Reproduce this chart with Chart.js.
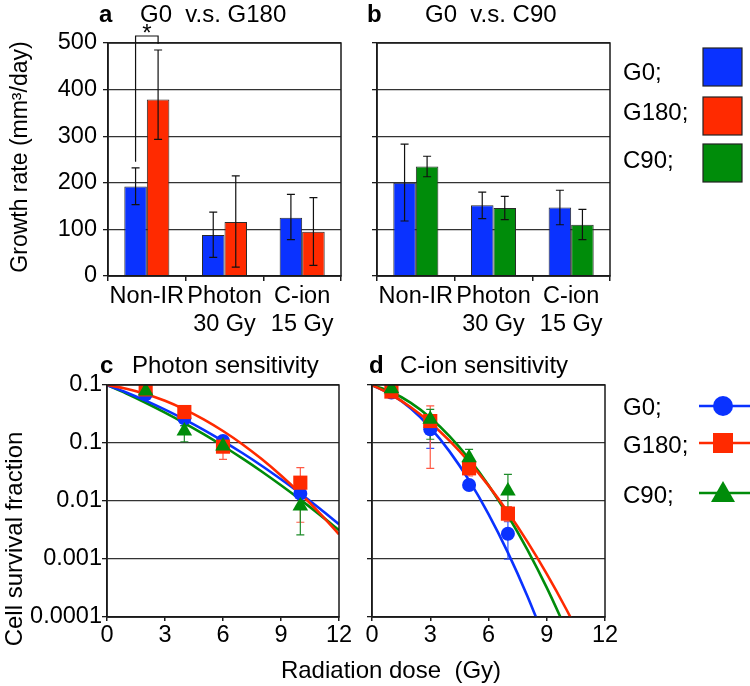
<!DOCTYPE html>
<html><head><meta charset="utf-8">
<script src="https://cdn.jsdelivr.net/npm/chart.js@4.4.0/dist/chart.umd.min.js"></script>
<style>
html,body{margin:0;padding:0;background:#fff;}
#wrap{position:relative;width:750px;height:686px;overflow:hidden;background:#fff;}
canvas{position:absolute;}
#xt{position:absolute;left:241px;width:300px;top:658px;text-align:center;font:24px 'Liberation Sans',Arial,sans-serif;line-height:24px;white-space:pre;color:#000;}
</style></head><body>
<div id="wrap">
<canvas id="ca" width="360" height="340" style="left:0;top:0"></canvas>
<canvas id="cb" width="390" height="340" style="left:360px;top:0"></canvas>
<canvas id="cc" width="360" height="346" style="left:0;top:340px"></canvas>
<canvas id="cd" width="390" height="346" style="left:360px;top:340px"></canvas>
<div id="xt">Radiation dose  (Gy)</div>
</div>
<script>
// ---------- data ----------
const seriesNames = ['G0', 'G180', 'C90'];
const barCategories = ['Non-IR', ['Photon', '30 Gy'], ['C-ion', '15 Gy']];
const growthTicks = [0, 100, 200, 300, 400, 500];

const aG0 = [192, 88, 125];
const aG0Low = [153, 40, 78];
const aG0High = [232, 137, 175];
const aG180 = [379, 116, 95];
const aG180Low = [293, 19, 23];
const aG180High = [485, 215, 168];

const bG0 = [200, 152, 147];
const bG0Low = [118, 123, 110];
const bG0High = [283, 180, 184];
const bC90 = [235, 146, 110];
const bC90Low = [213, 121, 78];
const bC90High = [257, 171, 143];

const doseTicks = [0, 3, 6, 9, 12];
const survTickValues = [0.0001, 0.001, 0.01, 0.1, 1];
const survTickLabels = ['0.0001', '0.001', '0.01', '0.1', '0.1'];

const cDoses = [2, 4, 6, 10];
const cG0 = [0.69, 0.266, 0.108, 0.0134];
const cG0Low = [0.62, 0.2, 0.095, 0.0115];
const cG0High = [0.76, 0.3, 0.12, 0.0155];
const cG180 = [0.84, 0.342, 0.0865, 0.0207];
const cG180Low = [0.75, 0.3, 0.052, 0.0043];
const cG180High = [0.95, 0.39, 0.1, 0.0376];
const cC90 = [0.79, 0.161, 0.0888, 0.0082];
const cC90Low = [0.7, 0.105, 0.075, 0.0026];
const cC90High = [0.9, 0.2, 0.1, 0.012];

const cFitDoses = [0, 1, 2, 3, 4, 5, 6, 7, 8, 9, 10, 11, 12];
const cG0Fit = [1, 0.744, 0.537, 0.376, 0.256, 0.169, 0.108, 0.0672, 0.0406, 0.0237, 0.0135, 0.00744, 0.00398];
const cG180Fit = [1, 0.864, 0.701, 0.534, 0.381, 0.256, 0.161, 0.0953, 0.0528, 0.0275, 0.01346, 0.00618, 0.00266];
const cC90Fit = [1, 0.712, 0.494, 0.334, 0.2206, 0.1417, 0.0888, 0.0542, 0.0323, 0.0187, 0.01057, 0.00582, 0.00313];

const dDoses = [1, 3, 5, 7];
const dG0 = [0.74, 0.172, 0.0189, 0.00273];
const dG0Low = [0.66, 0.081, 0.016, 0.00099];
const dG0High = [0.82, 0.2, 0.022, 0.0044];
const dG180 = [0.77, 0.239, 0.0366, 0.00605];
const dG180Low = [0.7, 0.0366, 0.027, 0.0045];
const dG180High = [0.85, 0.435, 0.05, 0.008];
const dC90 = [0.865, 0.256, 0.0558, 0.0149];
const dC90Low = [0.8, 0.116, 0.04, 0.0065];
const dC90High = [0.93, 0.38, 0.0778, 0.0288];

const dFitDoses = [0, 1, 2, 3, 4, 5, 6, 7, 8, 9, 10, 11];
const dG0Fit = [1, 0.689, 0.392, 0.1836, 0.0710, 0.02263, 0.00595, 0.00129, 0.000231, 0.000034];
const dG180Fit = [1, 0.679, 0.4127, 0.2242, 0.1089, 0.04734, 0.0184, 0.00639, 0.00199, 0.000553, 0.0001374, 0.0000305];
const dC90Fit = [1, 0.757, 0.491, 0.2734, 0.1304, 0.0534, 0.01872, 0.00563, 0.00145, 0.000321, 0.0000608];

// ---------- styles ----------
const FONT = "'Liberation Sans', Arial, Helvetica, sans-serif";
const BLUE = '#0A32FF', RED = '#FF2A00', GREEN = '#008C0A';
const ERR_BLUE = '#3355FF', ERR_RED = '#FF5A45', ERR_GREEN = '#1E8C2A';
const AXIS = '#1a1a1a', GRID = '#333333';
const TICK_SIZE = 23.5, TITLE_SIZE = 24;

Chart.defaults.font.family = FONT;
Chart.defaults.color = '#000';
Chart.defaults.animation = false;

const pts = (xs, ys) => xs.slice(0, ys.length).map((x, i) => ({x: x, y: ys[i]}));

// ---------- plugins ----------
const framePlugin = {
  id: 'frame',
  afterDraw(chart) {
    const a = chart.chartArea, ctx = chart.ctx;
    ctx.save();
    ctx.strokeStyle = AXIS; ctx.lineWidth = 1.5;
    ctx.strokeRect(a.left, a.top, a.right - a.left, a.bottom - a.top);
    ctx.restore();
  }
};

function errPlugin(hook, cap) {
  const p = {id: 'errbars'};
  p[hook] = function (chart) {
    const ctx = chart.ctx, ys = chart.scales.y;
    ctx.save();
    chart.data.datasets.forEach((ds, i) => {
      if (!ds.errLow) return;
      const meta = chart.getDatasetMeta(i);
      ctx.strokeStyle = ds.errColor || '#111';
      ctx.lineWidth = ds.errWidth || 1.2;
      meta.data.forEach((el, j) => {
        const lo = ds.errLow[j], hi = ds.errHigh[j];
        if (lo == null || hi == null) return;
        const x = el.x, y1 = ys.getPixelForValue(lo), y2 = ys.getPixelForValue(hi);
        ctx.beginPath();
        ctx.moveTo(x, y1); ctx.lineTo(x, y2);
        ctx.moveTo(x - cap, y1); ctx.lineTo(x + cap, y1);
        ctx.moveTo(x - cap, y2); ctx.lineTo(x + cap, y2);
        ctx.stroke();
      });
    });
    ctx.restore();
  };
  return p;
}

function textPlugin(items) {
  return {
    id: 'texts',
    afterDraw(chart) {
      const ctx = chart.ctx;
      ctx.save();
      ctx.fillStyle = '#000';
      items.forEach(it => {
        ctx.font = (it.bold ? 'bold ' : '') + (it.size || TITLE_SIZE) + 'px ' + FONT;
        if (it.rot) {
          ctx.save();
          ctx.translate(it.x, it.y);
          ctx.rotate(-Math.PI / 2);
          ctx.textAlign = 'center'; ctx.textBaseline = 'middle';
          ctx.fillText(it.text, 0, 0);
          ctx.restore();
        } else {
          ctx.textAlign = it.align || 'left';
          ctx.textBaseline = 'alphabetic';
          ctx.fillText(it.text, it.x, it.y);
        }
      });
      ctx.restore();
    }
  };
}

const bracketPlugin = {
  id: 'bracket',
  afterDraw(chart) {
    const ctx = chart.ctx, ys = chart.scales.y;
    const x1 = chart.getDatasetMeta(0).data[0].x, x2 = chart.getDatasetMeta(1).data[0].x;
    const yTop = ys.getPixelForValue(515), yL = ys.getPixelForValue(245), yR = ys.getPixelForValue(498);
    ctx.save();
    ctx.strokeStyle = '#111'; ctx.lineWidth = 1.2;
    ctx.beginPath();
    ctx.moveTo(x1, yL); ctx.lineTo(x1, yTop); ctx.lineTo(x2, yTop); ctx.lineTo(x2, yR);
    ctx.stroke();
    ctx.fillStyle = '#000';
    ctx.font = '24px ' + FONT; ctx.textAlign = 'center'; ctx.textBaseline = 'alphabetic';
    ctx.fillText('*', (x1 + x2) / 2, yTop + 5);
    ctx.restore();
  }
};

const barLegendPlugin = {
  id: 'barLegend',
  afterDraw(chart) {
    const ctx = chart.ctx;
    const cols = [BLUE, RED, GREEN];
    const base = [80, 120, 168];
    const boxTop = [48, 97, 144];
    ctx.save();
    ctx.font = TITLE_SIZE + 'px ' + FONT; ctx.fillStyle = '#000';
    ctx.textAlign = 'left'; ctx.textBaseline = 'alphabetic';
    seriesNames.forEach((n, i) => {
      ctx.fillStyle = '#000';
      ctx.fillText(n + ';', 263, base[i]);
      ctx.fillStyle = cols[i];
      ctx.fillRect(343, boxTop[i], 39, 38);
      ctx.strokeStyle = '#222'; ctx.lineWidth = 1.2;
      ctx.strokeRect(343, boxTop[i], 39, 38);
    });
    ctx.restore();
  }
};

const lineLegendPlugin = {
  id: 'lineLegend',
  afterDraw(chart) {
    const ctx = chart.ctx;
    const cols = [BLUE, RED, GREEN];
    const base = [75, 113, 163];
    const ly = [66, 103, 153];
    ctx.save();
    ctx.font = TITLE_SIZE + 'px ' + FONT;
    ctx.textAlign = 'left'; ctx.textBaseline = 'alphabetic';
    seriesNames.forEach((n, i) => {
      ctx.fillStyle = '#000';
      ctx.fillText(n + ';', 263, base[i]);
      ctx.strokeStyle = cols[i]; ctx.lineWidth = 2.5;
      ctx.beginPath(); ctx.moveTo(339, ly[i]); ctx.lineTo(390, ly[i]); ctx.stroke();
      ctx.fillStyle = cols[i];
      const cx = 363, cy = ly[i];
      ctx.beginPath();
      if (i === 0) { ctx.arc(cx, cy, 10, 0, Math.PI * 2); }
      else if (i === 1) { ctx.rect(cx - 10, cy - 10, 20, 20); }
      else { ctx.moveTo(cx, cy - 12); ctx.lineTo(cx + 12, cy + 9); ctx.lineTo(cx - 12, cy + 9); ctx.closePath(); }
      ctx.fill();
    });
    ctx.restore();
  }
};

// ---------- shared scale builders ----------
function barScales(yWidth, showYLabels) {
  return {
    x: {
      type: 'category', offset: true,
      grid: {offset: true, drawOnChartArea: false, drawTicks: true, tickLength: 5, color: AXIS, lineWidth: 1.5},
      border: {color: AXIS, width: 1.5},
      ticks: {font: {size: TICK_SIZE, lineHeight: 1.2}, color: '#000', padding: 1, maxRotation: 0, autoSkip: false},
      afterFit: s => { s.height = 64; }
    },
    y: {
      min: 0, max: 500,
      afterBuildTicks: s => { s.ticks = growthTicks.map(v => ({value: v})); },
      ticks: {display: showYLabels, font: {size: TICK_SIZE}, color: '#000', padding: 6},
      grid: {color: GRID, lineWidth: 1.3, tickLength: 5, tickColor: AXIS, drawTicks: true},
      border: {color: AXIS, width: 1.5},
      afterFit: s => { s.width = yWidth; }
    }
  };
}

function survScales(yWidth, showYLabels) {
  return {
    x: {
      type: 'linear', min: 0, max: 12,
      afterBuildTicks: s => { s.ticks = doseTicks.map(v => ({value: v})); },
      grid: {drawOnChartArea: false, drawTicks: true, tickLength: 4, color: AXIS, lineWidth: 1.5},
      border: {color: AXIS, width: 1.5},
      ticks: {font: {size: TICK_SIZE, lineHeight: 1.2}, color: '#000', padding: 0, maxRotation: 0, autoSkip: false},
      afterFit: s => { s.height = 69; }
    },
    y: {
      type: 'logarithmic', min: 0.0001, max: 1,
      afterBuildTicks: s => { s.ticks = survTickValues.map(v => ({value: v})); },
      ticks: {display: showYLabels, font: {size: TICK_SIZE}, color: '#000', padding: 0,
              callback: (v, i) => survTickLabels[i]},
      grid: {color: GRID, lineWidth: 1.3, tickLength: 5, tickColor: AXIS, drawTicks: true},
      border: {color: AXIS, width: 1.5},
      afterFit: s => { s.width = yWidth; }
    }
  };
}

const common = {
  responsive: false, animation: false,
  plugins: {legend: {display: false}, tooltip: {enabled: false}, title: {display: false}}
};

function barDs(label, data, lo, hi, color) {
  return {label: label, data: data, errLow: lo, errHigh: hi, errColor: '#111', errWidth: 1.2,
          backgroundColor: color, borderColor: '#2a2a2a', borderWidth: 1,
          categoryPercentage: 0.58, barPercentage: 1.0};
}

// ---------- panel a ----------
new Chart(document.getElementById('ca'), {
  type: 'bar',
  data: {labels: barCategories, datasets: [
    barDs(seriesNames[0], aG0, aG0Low, aG0High, BLUE),
    barDs(seriesNames[1], aG180, aG180Low, aG180High, RED)
  ]},
  options: Object.assign({}, common, {
    layout: {padding: {top: 43, right: 19, left: 0, bottom: 0}},
    scales: barScales(108, true)
  }),
  plugins: [errPlugin('afterDatasetsDraw', 4), framePlugin, bracketPlugin, textPlugin([
    {text: 'a', x: 99, y: 22, bold: true},
    {text: 'G0  v.s. G180', x: 140, y: 22},
    {text: 'Growth rate (mm\u00B3/day)', x: 21, y: 157, rot: true, size: 23}
  ])]
});

// ---------- panel b ----------
new Chart(document.getElementById('cb'), {
  type: 'bar',
  data: {labels: barCategories, datasets: [
    barDs(seriesNames[0], bG0, bG0Low, bG0High, BLUE),
    barDs(seriesNames[2], bC90, bC90Low, bC90High, GREEN)
  ]},
  options: Object.assign({}, common, {
    layout: {padding: {top: 43, right: 140, left: 0, bottom: 0}},
    scales: barScales(17, false)
  }),
  plugins: [errPlugin('afterDatasetsDraw', 4), framePlugin, barLegendPlugin, textPlugin([
    {text: 'b', x: 7, y: 22, bold: true},
    {text: 'G0  v.s. C90', x: 65, y: 22}
  ])]
});

// ---------- panel c / d ----------
function fitDs(xs, ys, color, ord) {
  return {data: pts(xs, ys), showLine: true, borderColor: color, borderWidth: 2.6, pointRadius: 0,
          cubicInterpolationMode: 'monotone', fill: false, order: ord};
}
function markDs(label, xs, ys, lo, hi, color, errColor, style, radius, ord) {
  return {label: label, data: pts(xs, ys), errLow: lo, errHigh: hi, errColor: errColor, errWidth: 1.2,
          showLine: false, pointStyle: style, pointRadius: radius, backgroundColor: color,
          borderColor: color, borderWidth: 0, order: ord};
}

new Chart(document.getElementById('cc'), {
  type: 'scatter',
  data: {datasets: [
    fitDs(cFitDoses, cC90Fit, GREEN, 6),
    fitDs(cFitDoses, cG0Fit, BLUE, 5),
    fitDs(cFitDoses, cG180Fit, RED, 4),
    markDs(seriesNames[0], cDoses, cG0, cG0Low, cG0High, BLUE, ERR_BLUE, 'circle', 7, 3),
    markDs(seriesNames[1], cDoses, cG180, cG180Low, cG180High, RED, ERR_RED, 'rect', 10, 2),
    markDs(seriesNames[2], cDoses, cC90, cC90Low, cC90High, GREEN, ERR_GREEN, 'triangle', 9, 1)
  ]},
  options: Object.assign({}, common, {
    layout: {padding: {top: 45, right: 21, left: 0, bottom: 0}},
    scales: survScales(107, true)
  }),
  plugins: [errPlugin('beforeDatasetsDraw', 4), framePlugin, textPlugin([
    {text: 'c', x: 100, y: 33, bold: true},
    {text: 'Photon sensitivity', x: 132, y: 33},
    {text: 'Cell survival fraction', x: 15, y: 199, rot: true}
  ])]
});

new Chart(document.getElementById('cd'), {
  type: 'scatter',
  data: {datasets: [
    fitDs(dFitDoses, dG0Fit, BLUE, 6),
    fitDs(dFitDoses, dC90Fit, GREEN, 5),
    fitDs(dFitDoses, dG180Fit, RED, 4),
    markDs(seriesNames[0], dDoses, dG0, dG0Low, dG0High, BLUE, ERR_BLUE, 'circle', 7, 3),
    markDs(seriesNames[1], dDoses, dG180, dG180Low, dG180High, RED, ERR_RED, 'rect', 10, 2),
    markDs(seriesNames[2], dDoses, dC90, dC90Low, dC90High, GREEN, ERR_GREEN, 'triangle', 9, 1)
  ]},
  options: Object.assign({}, common, {
    layout: {padding: {top: 45, right: 145, left: 0, bottom: 0}},
    scales: survScales(12, false)
  }),
  plugins: [errPlugin('beforeDatasetsDraw', 4), framePlugin, lineLegendPlugin, textPlugin([
    {text: 'd', x: 9, y: 33, bold: true},
    {text: 'C-ion sensitivity', x: 40, y: 33}
  ])]
});
</script>
</body></html>
